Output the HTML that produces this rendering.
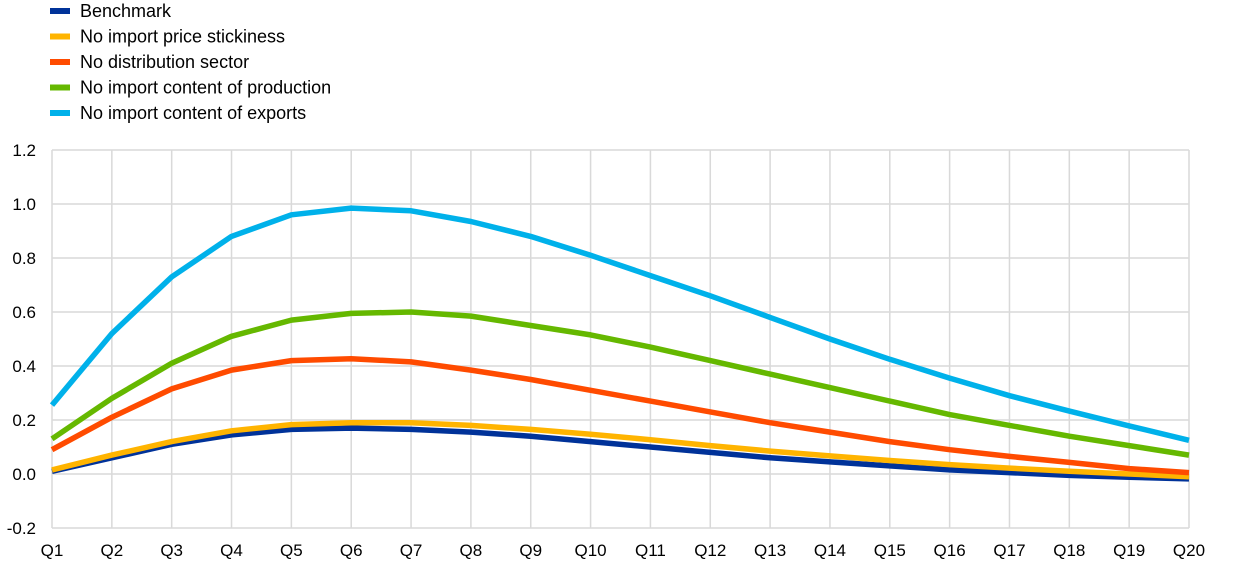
<!DOCTYPE html>
<html><head><meta charset="utf-8"><style>
body{margin:0;background:#fff;}
svg{display:block;font-family:"Liberation Sans",Arial,sans-serif;}
</style></head><body>
<svg id="c" width="1240" height="567" xmlns="http://www.w3.org/2000/svg"></svg>
<script>
const s=document.getElementById('c');let h='';
const X=i=>52+i*(1137/19), Y=v=>474-v*270;
for(let k=0;k<=7;k++){const y=150+k*54;h+=`<line x1="52" x2="1189" y1="${y}" y2="${y}" stroke="#d9d9d9" stroke-width="1.5"/>`;
h+=`<text x="36" y="${y+6}" font-size="17" text-anchor="end">${(1.2-k*0.2).toFixed(1).replace('-0.0','0.0')}</text>`;}
for(let i=0;i<20;i++){h+=`<line x1="${X(i)}" x2="${X(i)}" y1="150" y2="528" stroke="#d9d9d9" stroke-width="1.5"/>`;
h+=`<text x="${X(i)}" y="556" font-size="17" text-anchor="middle">Q${i+1}</text>`;}
const S=[
['#003299',[0.01,0.06,0.11,0.145,0.165,0.17,0.165,0.155,0.14,0.12,0.10,0.08,0.06,0.045,0.03,0.015,0.005,-0.005,-0.012,-0.018]],
['#ffb400',[0.015,0.07,0.12,0.16,0.183,0.19,0.19,0.18,0.165,0.147,0.127,0.105,0.085,0.067,0.05,0.035,0.022,0.01,0.0,-0.01]],
['#ff4b00',[0.09,0.21,0.315,0.385,0.42,0.427,0.415,0.385,0.35,0.31,0.27,0.23,0.19,0.155,0.12,0.09,0.065,0.043,0.02,0.005]],
['#65b800',[0.13,0.28,0.41,0.51,0.57,0.595,0.60,0.585,0.55,0.515,0.47,0.42,0.37,0.32,0.27,0.22,0.18,0.14,0.105,0.07]],
['#00b1ea',[0.255,0.52,0.73,0.88,0.96,0.985,0.975,0.935,0.88,0.81,0.735,0.66,0.58,0.50,0.425,0.355,0.29,0.233,0.178,0.125]]];
const names=['Benchmark','No import price stickiness','No distribution sector','No import content of production','No import content of exports'];
S.forEach(([c,d],j)=>{
 const p=d.map((v,i)=>X(i).toFixed(1)+','+Y(v).toFixed(1)).join(' ');
 h+=`<polyline points="${p}" fill="none" stroke="${c}" stroke-width="5.5" stroke-linejoin="round"/>`;
 const ly=11+j*25.5;
 h+=`<rect x="50" y="${ly-3}" width="20" height="6" fill="${c}"/>`;
 h+=`<text x="80" y="${ly+6}" font-size="18">${names[j]}</text>`;
});
s.innerHTML=h;
</script>
</body></html>
